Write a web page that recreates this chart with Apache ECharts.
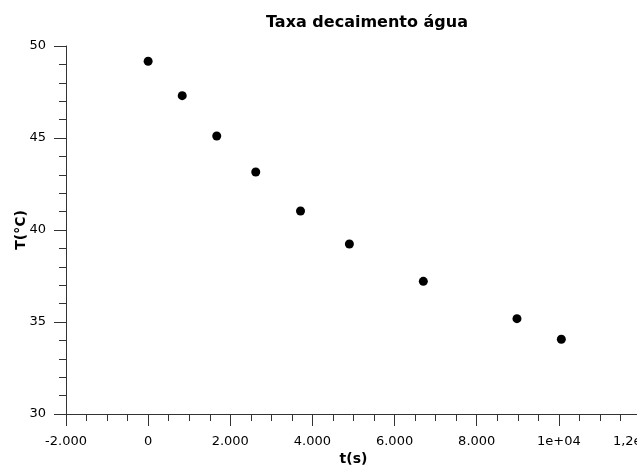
<!DOCTYPE html>
<html>
<head>
<meta charset="utf-8">
<script src="https://cdn.jsdelivr.net/npm/echarts@6/dist/echarts.min.js"></script>
<style>
html,body{margin:0;padding:0;background:#fff;}
#chart{width:637px;height:467px;}
</style>
</head>
<body>
<div id="chart"></div>
<script>
var timeS = [0, 830, 1670, 2620, 3710, 4900, 6700, 8980, 10060];
var tempC = [49.17, 47.30, 45.11, 43.15, 41.03, 39.24, 37.21, 35.18, 34.06];
var xTickLabels = {"-2000": "-2.000", "0": "0", "2000": "2.000", "4000": "4.000", "6000": "6.000", "8000": "8.000", "10000": "1e+04", "12000": "1,2e+04"};

var points = timeS.map(function (t, i) { return [t, tempC[i]]; });
var font = "DejaVu Sans";
var chart = echarts.init(document.getElementById('chart'));
chart.setOption({
  animation: false,
  backgroundColor: '#fff',
  title: {
    text: 'Taxa decaimento água',
    left: 261, top: 10,
    textStyle: {fontFamily: font, fontWeight: 'bold', fontSize: 16, color: '#000'}
  },
  grid: {left: 66, top: 46, right: -4, bottom: 53, containLabel: false, outerBoundsMode: 'none'},
  xAxis: {
    type: 'value', min: -2000, max: 12000, interval: 2000,
    name: 't(s)', nameLocation: 'middle', nameGap: 38, nameMoveOverlap: false,
    nameTextStyle: {fontFamily: font, fontWeight: 'bold', fontSize: 14, color: '#000'},
    axisLine: {show: true, onZero: false, lineStyle: {color: '#333', width: 1}},
    axisTick: {show: true, length: 12, inside: false, lineStyle: {color: '#333'}},
    minorTick: {show: true, splitNumber: 4, length: 7, lineStyle: {color: '#333'}},
    splitLine: {show: false},
    axisLabel: {
      margin: 21, fontFamily: font, fontSize: 13, color: '#000',
      showMinLabel: true, showMaxLabel: true, hideOverlap: false,
      formatter: function (v) { return xTickLabels[String(v)] !== undefined ? xTickLabels[String(v)] : String(v); }
    }
  },
  yAxis: {
    type: 'value', min: 30, max: 50, interval: 5,
    name: 'T(°C)', nameLocation: 'middle', nameGap: 38, nameMoveOverlap: false,
    nameTextStyle: {fontFamily: font, fontWeight: 'bold', fontSize: 14, color: '#000'},
    axisLine: {show: true, onZero: false, lineStyle: {color: '#333', width: 1}},
    axisTick: {show: true, length: 12, inside: false, lineStyle: {color: '#333'}},
    minorTick: {show: true, splitNumber: 5, length: 7, lineStyle: {color: '#333'}},
    splitLine: {show: false},
    axisLabel: {margin: 20, fontFamily: font, fontSize: 13, color: '#000'}
  },
  series: [{
    type: 'scatter',
    data: points,
    symbol: 'circle',
    symbolSize: 9,
    itemStyle: {color: '#000', opacity: 1}
  }]
});
</script>
</body>
</html>
